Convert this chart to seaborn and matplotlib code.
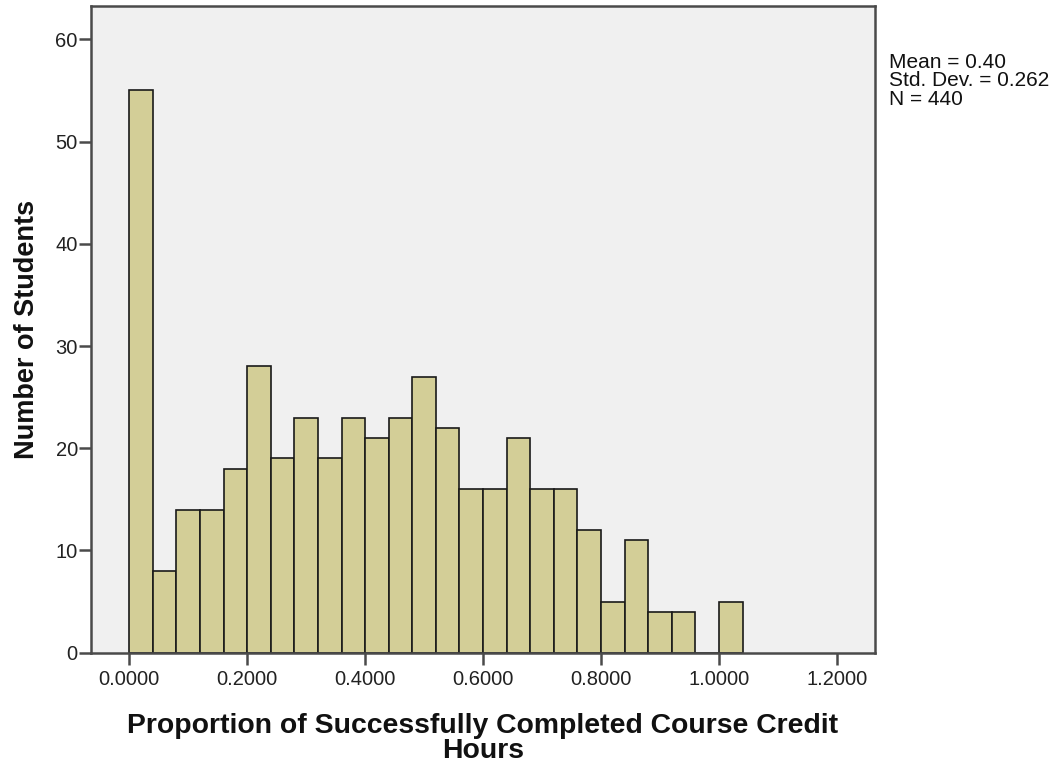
import numpy as np
import matplotlib
matplotlib.use("Agg")
import matplotlib.pyplot as plt
import seaborn as sns

# Histogram bins (width 0.04) and student counts per bin
bin_edges = [round(0.04 * i, 2) for i in range(27)]
bin_starts = bin_edges[:-1]
counts = [55, 8, 14, 14, 18, 28, 19, 23, 19, 23, 21, 23, 27, 22,
          16, 16, 21, 16, 16, 12, 5, 11, 4, 4, 0, 5]
x_ticks = [0.0, 0.2, 0.4, 0.6, 0.8, 1.0, 1.2]
y_ticks = [0, 10, 20, 30, 40, 50, 60]
stats_lines = ["Mean = 0.40", "Std. Dev. = 0.262", "N = 440"]

sns.set_style("white")
plt.rcParams["font.family"] = ["Liberation Sans", "DejaVu Sans"]

fig = plt.figure(figsize=(10.55, 7.67), dpi=100)
ax = fig.add_axes([0.086, 0.149, 0.743, 0.843])
ax.set_facecolor("#F0F0F0")

centers = [s + 0.02 for s in bin_starts]
sns.histplot(x=centers, weights=counts, bins=bin_edges, ax=ax,
             color="#D3CE97", edgecolor="#1a1a1a", linewidth=1.2, alpha=1.0)

ax.set_xlim(-0.0654, 1.264)
ax.set_ylim(0, 63.25)
ax.set_xticks(x_ticks)
ax.set_xticklabels([f"{v:.4f}" for v in x_ticks])
ax.set_yticks(y_ticks)
ax.set_yticklabels([str(v) for v in y_ticks])

for side in ["left", "bottom", "right", "top"]:
    ax.spines[side].set_visible(True)
    ax.spines[side].set_color("#4a4a4a")
    ax.spines[side].set_linewidth(1.8)

ax.tick_params(axis="both", which="major", direction="out", length=8.6,
               width=1.8, color="#4a4a4a", labelsize=14.5, labelcolor="#222222",
               bottom=True, left=True, top=False, right=False)
ax.tick_params(axis="x", pad=3.5)
ax.tick_params(axis="y", pad=0.7)

ax.set_xlabel("Proportion of Successfully Completed Course Credit\nHours",
              fontsize=20.4, fontweight="bold", linespacing=0.97, labelpad=17.5,
              color="#111111")
ax.set_ylabel("Number of Students", fontsize=19.5, fontweight="bold",
              labelpad=11.2, color="#111111")

for i, line in enumerate(stats_lines):
    fig.text(889 / 1055, 1 - (53 + 18.5 * i) / 767, line, fontsize=15,
             color="#111111", va="top", ha="left")

fig.savefig("out.png", dpi=100)
